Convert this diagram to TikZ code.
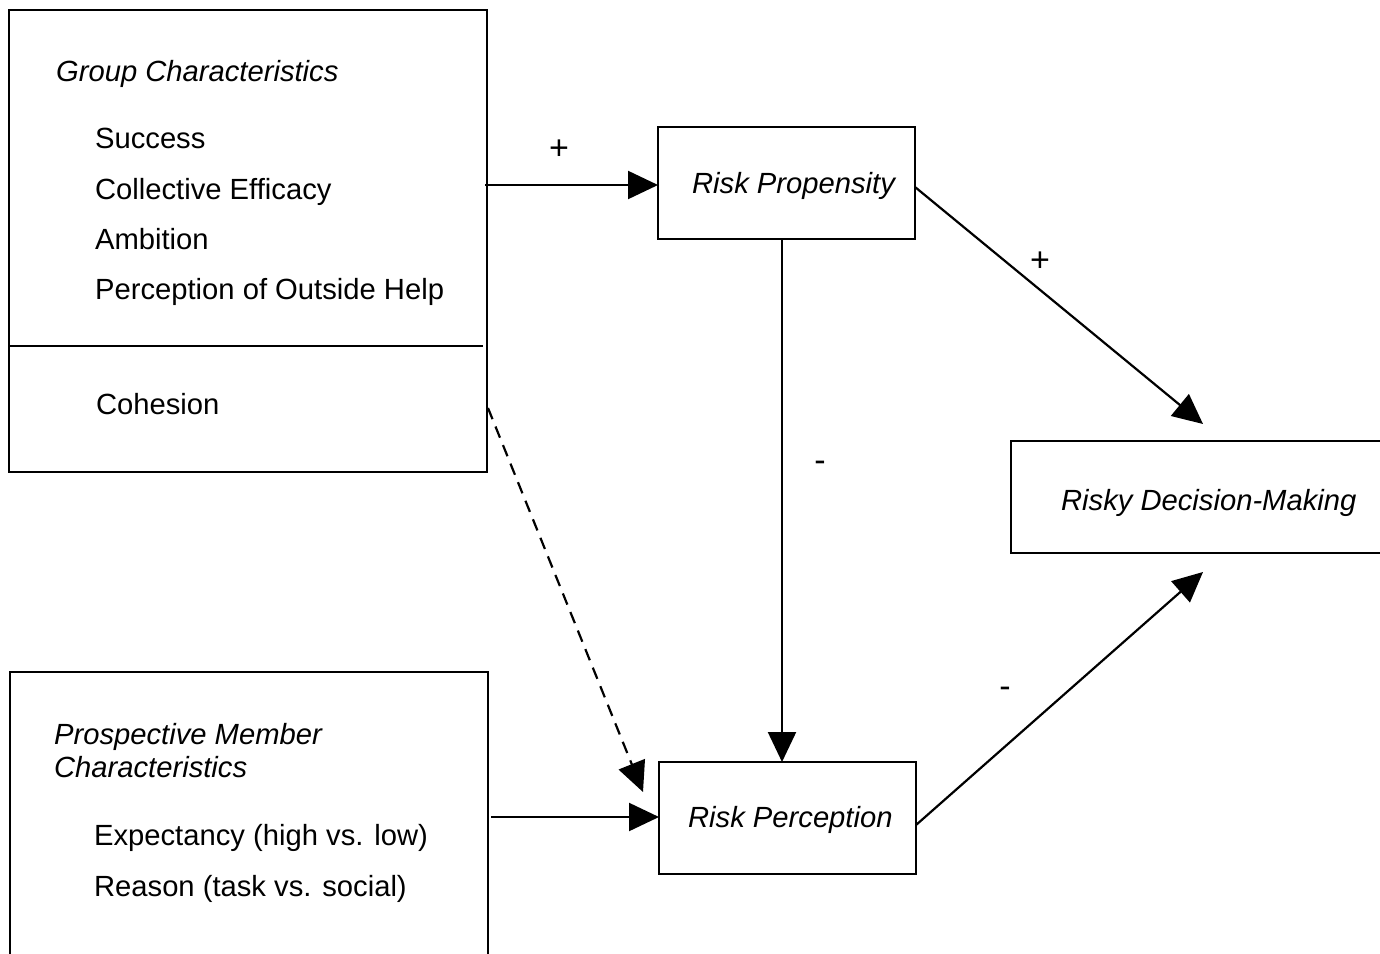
\documentclass[tikz,border=0pt]{standalone}
\usepackage{fontspec}
\setmainfont{Liberation Sans}
\usetikzlibrary{arrows.meta}
\begin{document}
\begin{tikzpicture}[x=0.5pt,y=-0.5pt,
  box/.style={draw,line width=1.1pt,rectangle,inner sep=0pt,outer sep=0pt},
  txt/.style={anchor=base west,inner sep=0pt,font=\fontsize{14.6}{17.5}\selectfont},
  itxt/.style={txt,font=\fontsize{14.6}{17.5}\selectfont\itshape},
  sign/.style={inner sep=0pt,font=\fontsize{17}{20}\selectfont},
  arr/.style={line width=1.1pt,-{Triangle[length=15pt,width=14pt]}},
  line width=1.1pt]
\useasboundingbox (0,0) rectangle (1380,953);
\clip (0,0) rectangle (1380,953);
% boxes
\node[box,minimum width=239pt,minimum height=231pt] (gc) at (248,241) {};
\node[box,minimum width=128.5pt,minimum height=56pt] (rp) at (786.5,183) {};
\node[box,minimum width=128.5pt,minimum height=56pt] (rpc) at (787.5,818) {};
\node[box,minimum width=197pt,minimum height=56pt] (rdm) at (1208,497) {};
\node[box,minimum width=239pt,minimum height=164pt] (pm) at (249,836) {};
% divider
\coordinate (divR) at (483,346);
\draw (gc.west |- divR) -- (divR);
% texts
\node[itxt] (t1) at (55,81) {Group Characteristics};
\node[txt] (t2) at (94,148) {Success};
\node[txt] (t3) at (94,199) {Collective Efficacy};
\node[txt] (t4) at (94,249) {Ambition};
\node[txt] (t5) at (94,299) {Perception of Outside Help};
\node[txt] (t6) at (95,414) {Cohesion};
\node[itxt] (rpt) at (691,193) {Risk Propensity};
\node[itxt] (rpct) at (687,827) {Risk Perception};
\node[itxt] (rdmt) at (1060,510) {Risky Decision-Making};
\node[itxt] (p1) at (53,744) {Prospective Member};
\node[itxt] (p2) at (53,777) {Characteristics};
\node[txt] (p3) at (93,845) {Expectancy (high vs. low)};
\node[txt] (p4) at (93,896) {Reason (task vs. social)};
% connectors
\coordinate (a1) at (485,185);
\draw[arr] (a1) -- (rp.west |- a1);
\coordinate (v) at (782,0);
\draw[arr] (rp.south -| v) -- (rpc.north -| v);
\coordinate (a2) at (491,817);
\draw[arr] (a2) -- (rpc.west |- a2);
\coordinate (e1) at (1203,424);
\draw[arr] (rp.east) ++(0,4) coordinate (s1) (s1) -- (e1);
\coordinate (e2) at (1203,572);
\draw[arr] (rpc.east) ++(0,7) coordinate (s2) (s2) -- (e2);
\coordinate (d1) at (488,408);
\coordinate (d2) at (643,792);
\draw[arr,dashed,dash pattern=on 6pt off 4pt] (d1) -- (d2);
% signs
\node[sign] (s+1) at (559,150) {+};
\node[sign] (s+2) at (1040,262) {+};
\node[sign] (s-1) at (820,466) {-};
\node[sign] (s-2) at (1005,692) {-};
\end{tikzpicture}
\end{document}
